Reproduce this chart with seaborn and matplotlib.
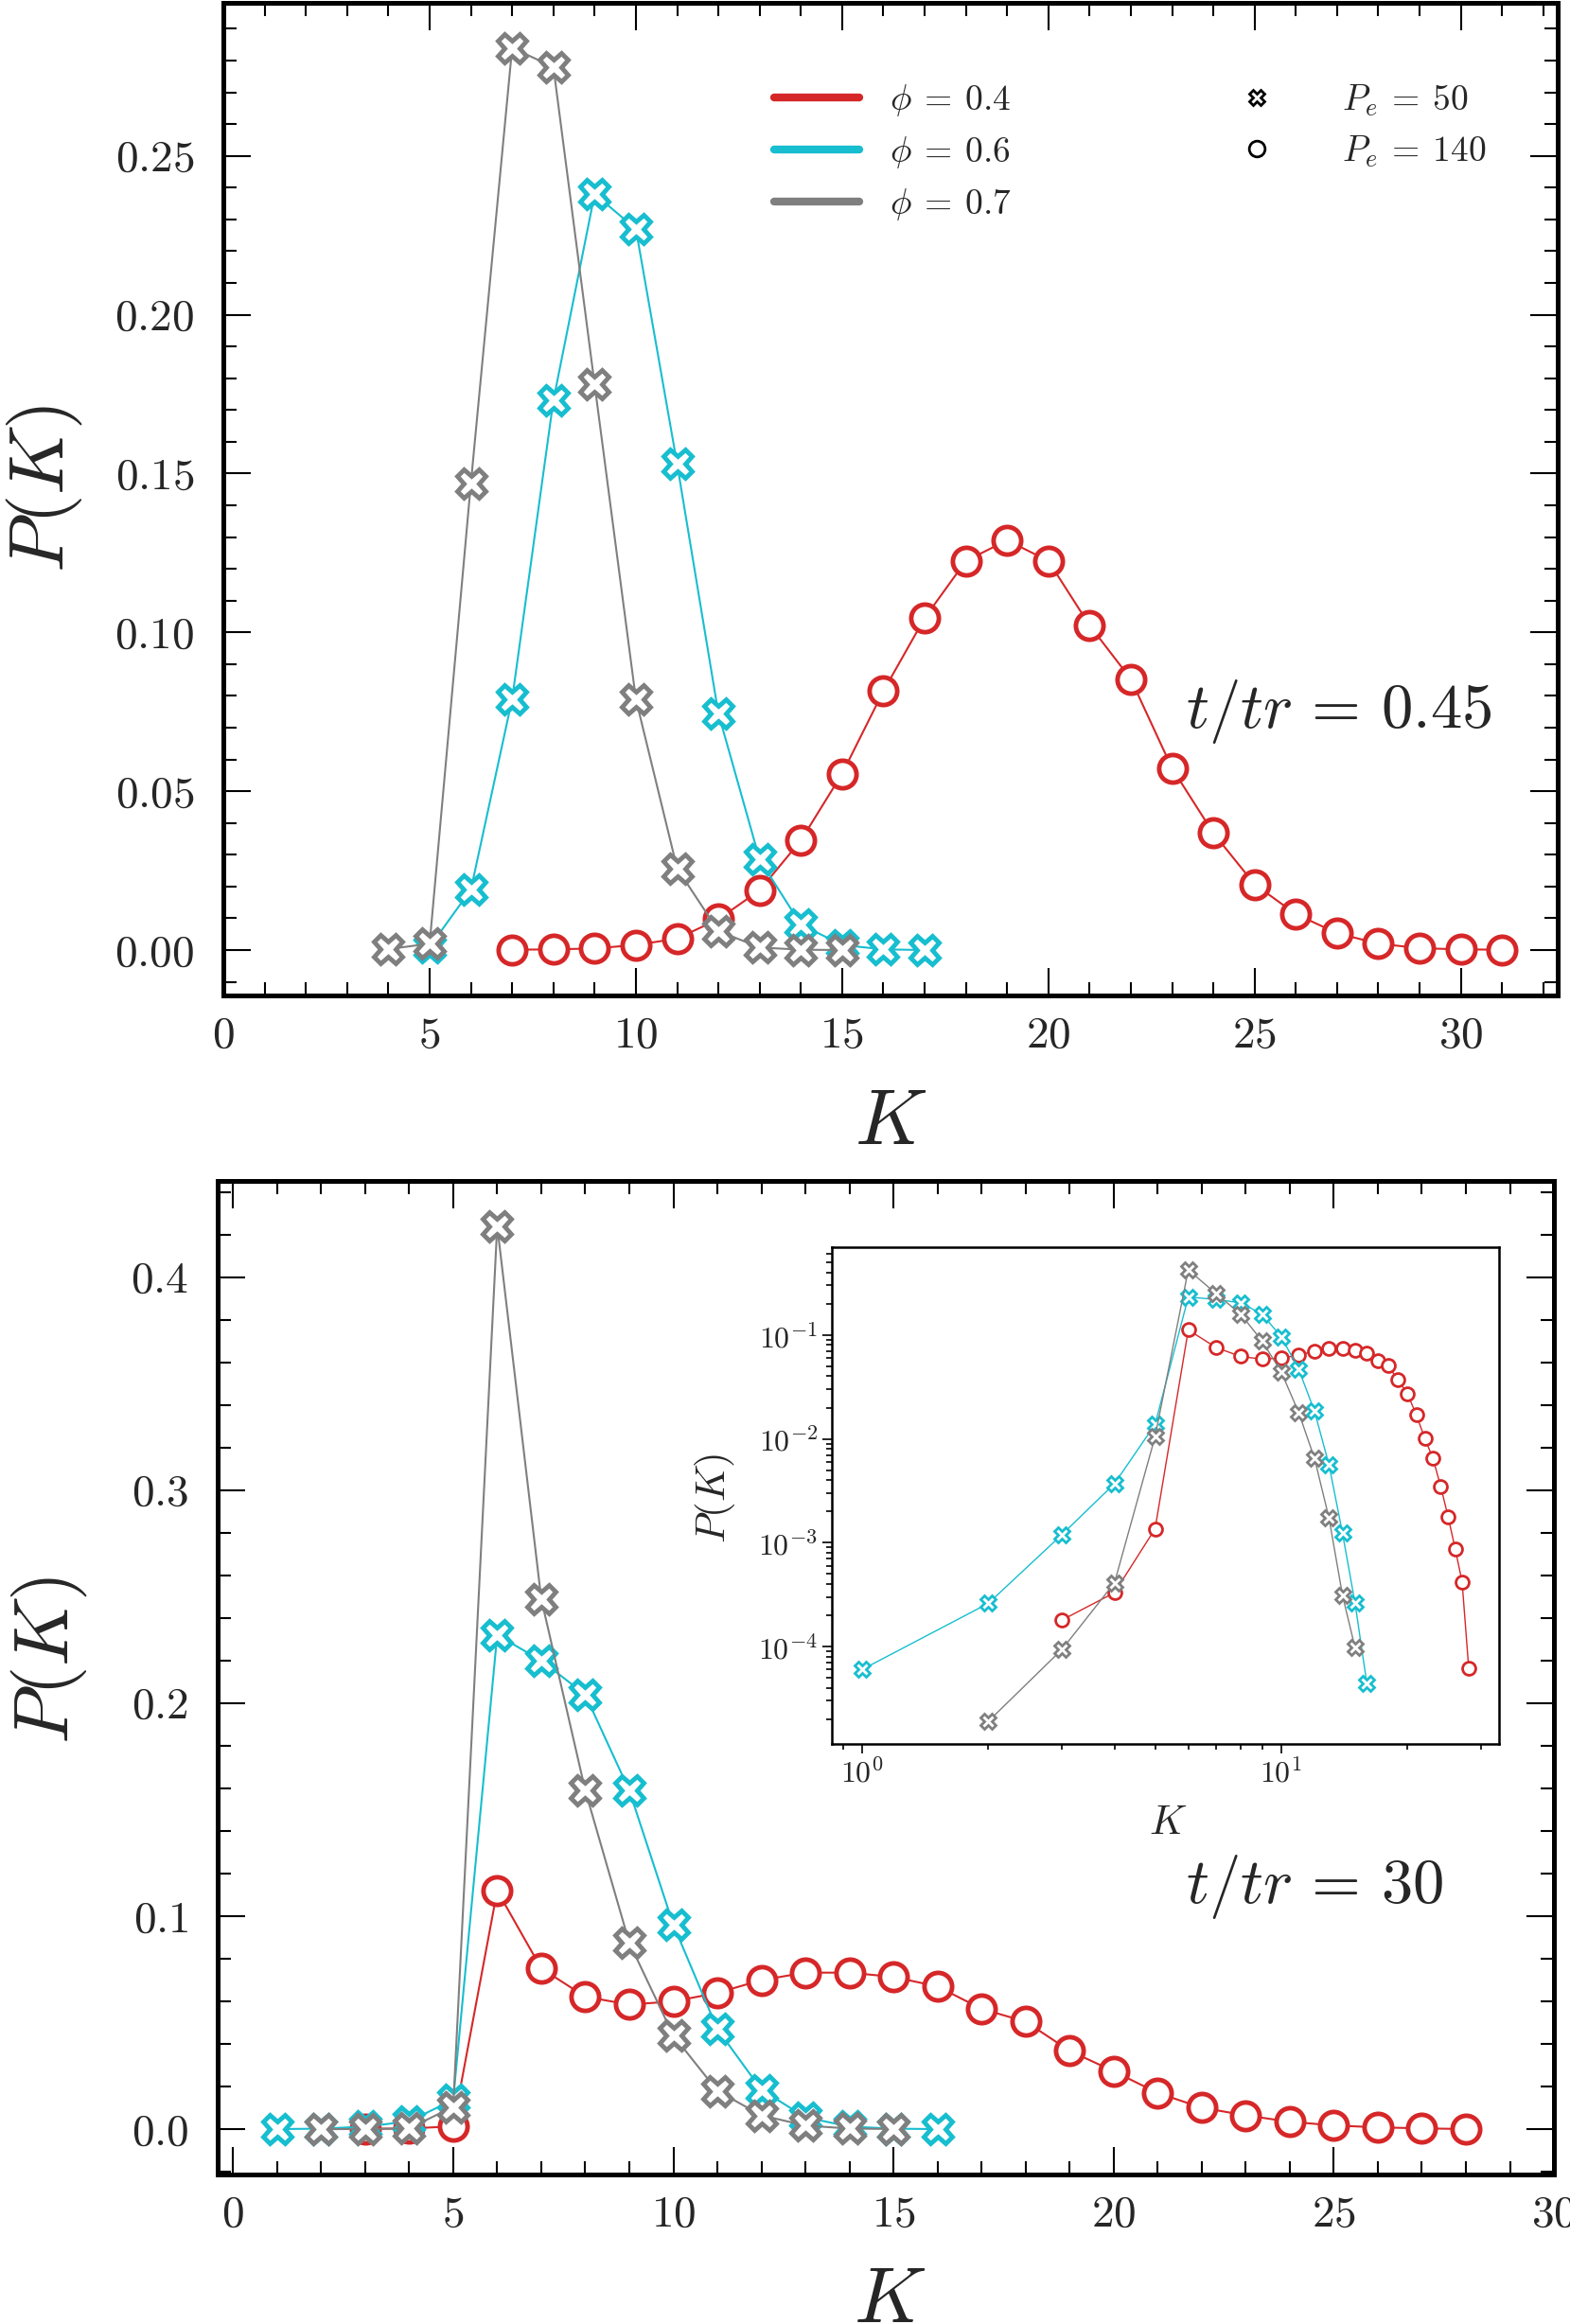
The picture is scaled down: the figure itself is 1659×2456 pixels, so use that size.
import matplotlib
matplotlib.use('Agg')
import matplotlib.pyplot as plt
from matplotlib.lines import Line2D
from matplotlib.ticker import MultipleLocator, NullFormatter
import seaborn as sns

# ---- data ----
# top panel, t/tr = 0.45
k_top_04 = list(range(7, 32))
p_top_04 = [0.0001, 0.0002, 0.0005, 0.0016, 0.0036, 0.0097, 0.0188, 0.0345, 0.0555,
            0.0815, 0.1045, 0.1225, 0.1290, 0.1225, 0.1022, 0.0853, 0.0572, 0.0368,
            0.0207, 0.0113, 0.0053, 0.0020, 0.0006, 0.0002, 0.0001]
k_top_06 = list(range(5, 18))
p_top_06 = [0.0010, 0.0190, 0.0790, 0.1730, 0.2380, 0.2270, 0.1530, 0.0745, 0.0285,
            0.0080, 0.0016, 0.0002, 0.0]
k_top_07 = list(range(4, 16))
p_top_07 = [0.0003, 0.0020, 0.1470, 0.2840, 0.2780, 0.1780, 0.0790, 0.0257, 0.0060,
            0.0008, 0.0001, 0.0]

# bottom panel, t/tr = 30
k_bot_04 = list(range(3, 29))
p_bot_04 = [1.8e-4, 3.3e-4, 1.36e-3, 0.112, 0.0755, 0.0622, 0.0585, 0.0600, 0.0640,
            0.0700, 0.0735, 0.0735, 0.0715, 0.0670, 0.0565, 0.0505, 0.0368, 0.0272,
            0.0170, 0.0101, 0.0065, 0.0035, 1.78e-3, 8.7e-4, 4.2e-4, 6.2e-5]
k_bot_06 = list(range(1, 17))
p_bot_06 = [6.0e-5, 2.6e-4, 1.2e-3, 3.7e-3, 1.38e-2, 0.232, 0.220, 0.204, 0.159,
            0.096, 0.047, 0.0185, 0.0056, 1.23e-3, 2.6e-4, 4.4e-5]
k_bot_07 = list(range(2, 16))
p_bot_07 = [1.9e-5, 9.4e-5, 4.1e-4, 1.05e-2, 0.424, 0.249, 0.159, 0.0875, 0.0440,
            0.0180, 0.0065, 1.72e-3, 3.1e-4, 9.7e-5]

phi_labels = [r'$\phi\:=\:0.4$', r'$\phi\:=\:0.6$', r'$\phi\:=\:0.7$']
pe_labels = [r'$P_e\:=\:50$', r'$P_e\:=\:140$']
colors = ['#d62728', '#17becf', '#7f7f7f']

sns.set_style('ticks')
plt.rcParams.update({
    'font.family': 'cmr10',
    'mathtext.fontset': 'cm',
    'axes.unicode_minus': False,
    'axes.formatter.use_mathtext': True,
    'legend.frameon': False,
})


def draw(ax, k, p, color, marker, ms, mew, lw):
    sns.lineplot(x=k, y=p, ax=ax, color=color, marker=marker, markersize=ms,
                 markeredgewidth=mew, markeredgecolor=color, markerfacecolor='white',
                 linewidth=lw, legend=False)


def style_main(ax, ymaj, ymin):
    for s in ax.spines.values():
        s.set_linewidth(3.6)
        s.set_color('black')
    ax.xaxis.set_major_locator(MultipleLocator(5))
    ax.xaxis.set_minor_locator(MultipleLocator(1))
    ax.yaxis.set_major_locator(MultipleLocator(ymaj))
    ax.yaxis.set_minor_locator(MultipleLocator(ymin))
    ax.tick_params(which='both', direction='in', top=True, right=True, width=1.5,
                   labelsize=34, color='black')
    ax.tick_params(which='major', length=21)
    ax.tick_params(which='minor', length=10)
    ax.tick_params(axis='y', pad=22)
    ax.tick_params(axis='x', pad=16)


fig = plt.figure(figsize=(16.59, 24.56), dpi=100)
ax1 = fig.add_axes([0.1423, 0.5718, 0.8499, 0.4270])
ax2 = fig.add_axes([0.1386, 0.0644, 0.8512, 0.4275])
ax3 = fig.add_axes([0.5298, 0.2496, 0.4250, 0.2137])

# top panel
draw(ax1, k_top_04, p_top_04, colors[0], 'o', 21, 3.5, 1.5)
draw(ax1, k_top_06, p_top_06, colors[1], 'X', 22, 3.5, 1.5)
draw(ax1, k_top_07, p_top_07, colors[2], 'X', 22, 3.5, 1.5)
ax1.set_xlim(left=0)
style_main(ax1, 0.05, 0.01)
ax1.set_xlabel(r'$K$', fontsize=60)
ax1.set_ylabel(r'$P(K)$', fontsize=58)
ax1.xaxis.set_label_coords(0.5, -0.095)
ax1.yaxis.set_label_coords(-0.104, 0.51)
ax1.text(0.7213, 0.2858, r'$t/tr\,=\,0.45$', transform=ax1.transAxes, fontsize=48,
         ha='left', va='center')

phi_handles = [Line2D([], [], color=c, lw=6) for c in colors]
leg1 = ax1.legend(phi_handles, phi_labels, loc='center left', bbox_to_anchor=(0.413, 0.849),
                  fontsize=27, handlelength=2.4, handletextpad=0.85, labelspacing=0.45,
                  borderpad=0, borderaxespad=0)
ax1.add_artist(leg1)
pe_handles = [Line2D([], [], color='black', marker=m, ls='none', ms=12, mew=2,
                     mfc='white') for m in ['X', 'o']]
ax1.legend(pe_handles, pe_labels, loc='center left', bbox_to_anchor=(0.761, 0.876),
           fontsize=27, handlelength=1.0, handletextpad=1.9, labelspacing=0.45,
           borderpad=0, borderaxespad=0)

# bottom panel
draw(ax2, k_bot_04, p_bot_04, colors[0], 'o', 21, 3.5, 1.5)
draw(ax2, k_bot_06, p_bot_06, colors[1], 'X', 22, 3.5, 1.5)
draw(ax2, k_bot_07, p_bot_07, colors[2], 'X', 22, 3.5, 1.5)
ax2.set_xlim(right=30)
style_main(ax2, 0.1, 0.02)
ax2.set_xlabel(r'$K$', fontsize=60)
ax2.set_ylabel(r'$P(K)$', fontsize=58)
ax2.xaxis.set_label_coords(0.503, -0.0946)
ax2.yaxis.set_label_coords(-0.096, 0.517)
ax2.text(0.7245, 0.2893, r'$t/tr\,=\,30$', transform=ax2.transAxes, fontsize=48,
         ha='left', va='center')

# inset, log-log
ax3.set_xscale('log')
ax3.set_yscale('log')
draw(ax3, k_bot_04, p_bot_04, colors[0], 'o', 10, 2, 1.0)
draw(ax3, k_bot_06, p_bot_06, colors[1], 'X', 11, 2, 1.0)
draw(ax3, k_bot_07, p_bot_07, colors[2], 'X', 11, 2, 1.0)
for s in ax3.spines.values():
    s.set_linewidth(1.8)
    s.set_color('black')
ax3.tick_params(which='both', direction='out', labelsize=23, width=1.2, color='black')
ax3.tick_params(which='major', length=7)
ax3.tick_params(which='minor', length=4)
ax3.xaxis.set_minor_formatter(NullFormatter())
ax3.yaxis.set_minor_formatter(NullFormatter())
ax3.set_xlabel(r'$K$', fontsize=31)
ax3.set_ylabel(r'$P(K)$', fontsize=31)
ax3.xaxis.set_label_coords(0.504, -0.124)
ax3.yaxis.set_label_coords(-0.142, 0.495)

fig.savefig('out.png', dpi=100)
